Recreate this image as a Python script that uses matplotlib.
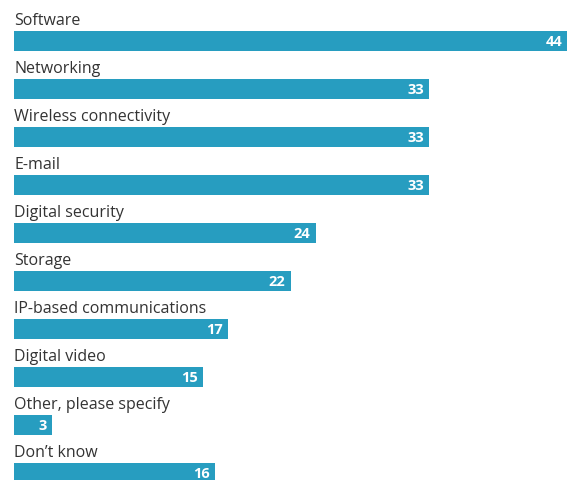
import matplotlib.pyplot as plt

# survey answers, top to bottom
categories = ["Software", "Networking", "Wireless connectivity", "E-mail",
              "Digital security", "Storage", "IP-based communications",
              "Digital video", "Other, please specify", "Don\u2019t know"]
values = [44, 33, 33, 33, 24, 22, 17, 15, 3, 16]

W, H = 583, 481
px_per_unit = 553 / 44.0   # bar length in pixels per unit
x0 = 14                    # left edge of bars in pixels
pitch = 48                 # row spacing in pixels
first_center = 42          # centre of the first bar in pixels

fig = plt.figure(figsize=(W / 100, H / 100), dpi=100)
ax = fig.add_axes([0, 0, 1, 1])
ax.set_xlim(-x0 / px_per_unit, (W - x0) / px_per_unit)
ax.set_ylim((H - first_center) / pitch, -first_center / pitch)
ax.axis("off")

bar_color = "#279dc0"
rows = range(len(categories))
ax.barh(list(rows), values, height=20 / pitch, left=0, color=bar_color)

for i, (cat, v) in enumerate(zip(categories, values)):
    ax.text(0, i - 17 / pitch, cat, ha="left", va="baseline",
            fontsize=11.5, color="#333333", family="Open Sans")
    ax.text(v - 5 / px_per_unit, i + 0.01, str(v), ha="right", va="center",
            fontsize=10.5, color="white", fontweight="bold", family="Open Sans")

fig.savefig("out.png", dpi=100)
